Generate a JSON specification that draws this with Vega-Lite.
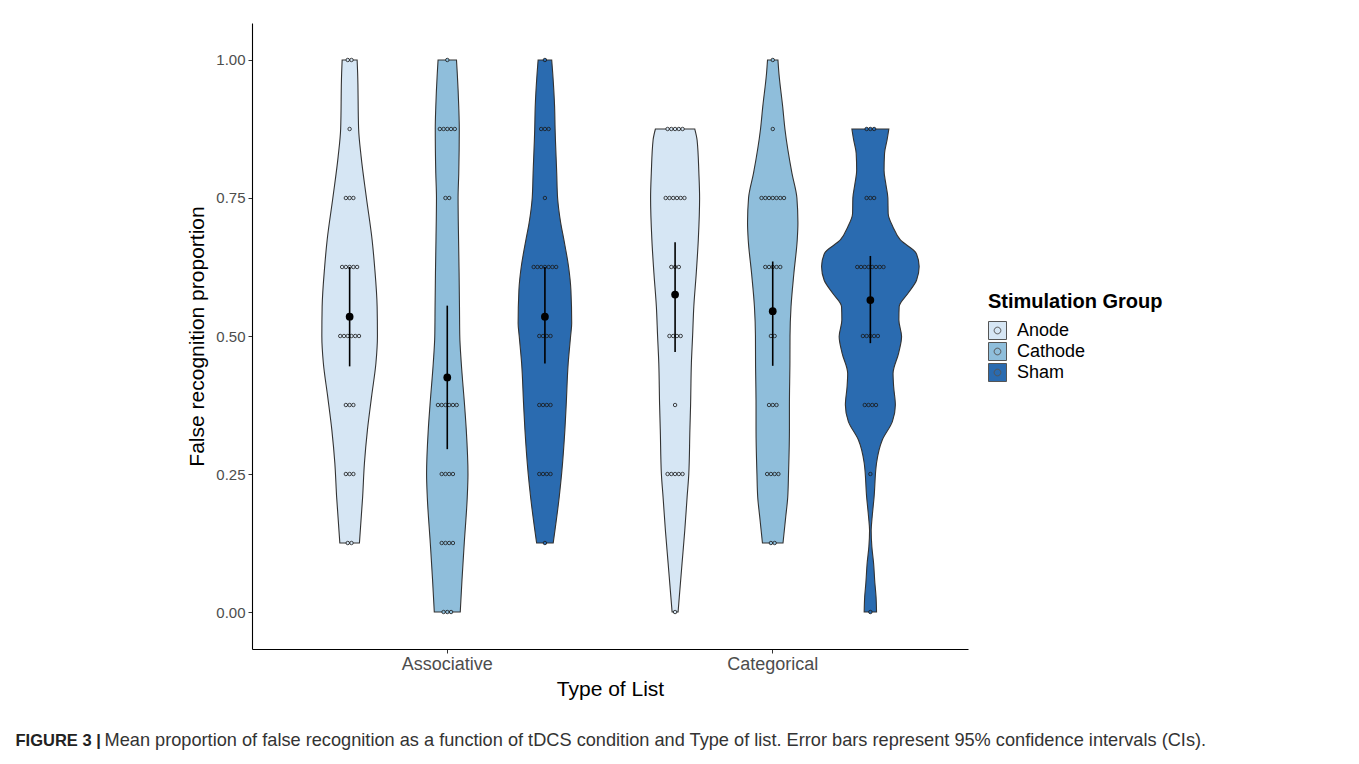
{
  "$schema": "https://vega.github.io/schema/vega-lite/v6.json",
  "width": 716,
  "height": 626,
  "autosize": "none",
  "padding": {"left": 252, "top": 23, "right": 391, "bottom": 115},
  "background": "white",
  "config": {
    "font": "Liberation Sans",
    "view": {"stroke": null},
    "axis": {
      "grid": false,
      "domainColor": "#000000",
      "domainWidth": 1.1,
      "tickColor": "#333333",
      "tickSize": 4,
      "labelColor": "#4d4d4d",
      "labelFontSize": 15,
      "titleColor": "#000000",
      "titleFontSize": 21,
      "titleFontWeight": "normal"
    },
    "legend": {
      "symbolType": "M-1,-1H1V1H-1Z M0.37,0A0.37,0.37,0,1,1,-0.37,0A0.37,0.37,0,1,1,0.37,0Z",
      "symbolSize": 324,
      "symbolStrokeColor": "#555555",
      "symbolStrokeWidth": 1,
      "titleFontSize": 20,
      "titleFontWeight": "bold",
      "titleColor": "#000000",
      "titlePadding": 9,
      "labelFontSize": 18,
      "labelColor": "#000000",
      "labelOffset": 10,
      "rowPadding": -5,
      "orient": "none",
      "legendX": 736,
      "legendY": 269
    }
  },
  "datasets": {
    "violins": [
      {"list": "Associative", "group": "Anode", "y": 1.0, "lo": 0.677, "hi": 0.723},
      {"list": "Associative", "group": "Anode", "y": 0.976, "lo": 0.6754, "hi": 0.7246},
      {"list": "Associative", "group": "Anode", "y": 0.875, "lo": 0.6724, "hi": 0.7276},
      {"list": "Associative", "group": "Anode", "y": 0.825, "lo": 0.6647, "hi": 0.7353},
      {"list": "Associative", "group": "Anode", "y": 0.75, "lo": 0.6484, "hi": 0.7516},
      {"list": "Associative", "group": "Anode", "y": 0.674, "lo": 0.6309, "hi": 0.7691},
      {"list": "Associative", "group": "Anode", "y": 0.625, "lo": 0.6232, "hi": 0.7768},
      {"list": "Associative", "group": "Anode", "y": 0.553, "lo": 0.6155, "hi": 0.7845},
      {"list": "Associative", "group": "Anode", "y": 0.5, "lo": 0.6146, "hi": 0.7854},
      {"list": "Associative", "group": "Anode", "y": 0.451, "lo": 0.6192, "hi": 0.7808},
      {"list": "Associative", "group": "Anode", "y": 0.391, "lo": 0.6324, "hi": 0.7676},
      {"list": "Associative", "group": "Anode", "y": 0.33, "lo": 0.6453, "hi": 0.7547},
      {"list": "Associative", "group": "Anode", "y": 0.27, "lo": 0.6545, "hi": 0.7455},
      {"list": "Associative", "group": "Anode", "y": 0.208, "lo": 0.6601, "hi": 0.7399},
      {"list": "Associative", "group": "Anode", "y": 0.125, "lo": 0.6699, "hi": 0.7301},

      {"list": "Associative", "group": "Cathode", "y": 1.0, "lo": 0.9717, "hi": 1.0283},
      {"list": "Associative", "group": "Cathode", "y": 0.976, "lo": 0.9693, "hi": 1.0307},
      {"list": "Associative", "group": "Cathode", "y": 0.915, "lo": 0.9647, "hi": 1.0353},
      {"list": "Associative", "group": "Cathode", "y": 0.875, "lo": 0.9631, "hi": 1.0369},
      {"list": "Associative", "group": "Cathode", "y": 0.795, "lo": 0.9647, "hi": 1.0353},
      {"list": "Associative", "group": "Cathode", "y": 0.75, "lo": 0.9668, "hi": 1.0332},
      {"list": "Associative", "group": "Cathode", "y": 0.674, "lo": 0.9653, "hi": 1.0347},
      {"list": "Associative", "group": "Cathode", "y": 0.614, "lo": 0.9637, "hi": 1.0363},
      {"list": "Associative", "group": "Cathode", "y": 0.553, "lo": 0.9625, "hi": 1.0375},
      {"list": "Associative", "group": "Cathode", "y": 0.5, "lo": 0.9616, "hi": 1.0384},
      {"list": "Associative", "group": "Cathode", "y": 0.451, "lo": 0.957, "hi": 1.043},
      {"list": "Associative", "group": "Cathode", "y": 0.375, "lo": 0.9469, "hi": 1.0531},
      {"list": "Associative", "group": "Cathode", "y": 0.33, "lo": 0.9416, "hi": 1.0584},
      {"list": "Associative", "group": "Cathode", "y": 0.25, "lo": 0.9364, "hi": 1.0636},
      {"list": "Associative", "group": "Cathode", "y": 0.208, "lo": 0.9386, "hi": 1.0614},
      {"list": "Associative", "group": "Cathode", "y": 0.125, "lo": 0.9478, "hi": 1.0522},
      {"list": "Associative", "group": "Cathode", "y": 0.058, "lo": 0.9548, "hi": 1.0452},
      {"list": "Associative", "group": "Cathode", "y": 0.0, "lo": 0.9601, "hi": 1.0399},

      {"list": "Associative", "group": "Sham", "y": 1.0, "lo": 1.2791, "hi": 1.3209},
      {"list": "Associative", "group": "Sham", "y": 0.976, "lo": 1.276, "hi": 1.324},
      {"list": "Associative", "group": "Sham", "y": 0.915, "lo": 1.2702, "hi": 1.3298},
      {"list": "Associative", "group": "Sham", "y": 0.875, "lo": 1.2687, "hi": 1.3313},
      {"list": "Associative", "group": "Sham", "y": 0.795, "lo": 1.2637, "hi": 1.3363},
      {"list": "Associative", "group": "Sham", "y": 0.75, "lo": 1.261, "hi": 1.339},
      {"list": "Associative", "group": "Sham", "y": 0.705, "lo": 1.2515, "hi": 1.3485},
      {"list": "Associative", "group": "Sham", "y": 0.674, "lo": 1.2416, "hi": 1.3584},
      {"list": "Associative", "group": "Sham", "y": 0.625, "lo": 1.2272, "hi": 1.3728},
      {"list": "Associative", "group": "Sham", "y": 0.583, "lo": 1.2201, "hi": 1.3799},
      {"list": "Associative", "group": "Sham", "y": 0.523, "lo": 1.2177, "hi": 1.3823},
      {"list": "Associative", "group": "Sham", "y": 0.5, "lo": 1.221, "hi": 1.379},
      {"list": "Associative", "group": "Sham", "y": 0.451, "lo": 1.2284, "hi": 1.3716},
      {"list": "Associative", "group": "Sham", "y": 0.375, "lo": 1.2346, "hi": 1.3654},
      {"list": "Associative", "group": "Sham", "y": 0.33, "lo": 1.2386, "hi": 1.3614},
      {"list": "Associative", "group": "Sham", "y": 0.25, "lo": 1.2487, "hi": 1.3513},
      {"list": "Associative", "group": "Sham", "y": 0.208, "lo": 1.2561, "hi": 1.3439},
      {"list": "Associative", "group": "Sham", "y": 0.125, "lo": 1.2745, "hi": 1.3255},

      {"list": "Categorical", "group": "Anode", "y": 0.875, "lo": 1.6395, "hi": 1.7605},
      {"list": "Categorical", "group": "Anode", "y": 0.855, "lo": 1.6324, "hi": 1.7676},
      {"list": "Categorical", "group": "Anode", "y": 0.795, "lo": 1.6269, "hi": 1.7731},
      {"list": "Categorical", "group": "Anode", "y": 0.75, "lo": 1.6247, "hi": 1.7753},
      {"list": "Categorical", "group": "Anode", "y": 0.674, "lo": 1.6287, "hi": 1.7713},
      {"list": "Categorical", "group": "Anode", "y": 0.614, "lo": 1.6349, "hi": 1.7651},
      {"list": "Categorical", "group": "Anode", "y": 0.553, "lo": 1.6425, "hi": 1.7575},
      {"list": "Categorical", "group": "Anode", "y": 0.5, "lo": 1.6462, "hi": 1.7538},
      {"list": "Categorical", "group": "Anode", "y": 0.451, "lo": 1.6499, "hi": 1.7501},
      {"list": "Categorical", "group": "Anode", "y": 0.375, "lo": 1.6524, "hi": 1.7476},
      {"list": "Categorical", "group": "Anode", "y": 0.33, "lo": 1.6545, "hi": 1.7455},
      {"list": "Categorical", "group": "Anode", "y": 0.25, "lo": 1.6579, "hi": 1.7421},
      {"list": "Categorical", "group": "Anode", "y": 0.208, "lo": 1.6631, "hi": 1.7369},
      {"list": "Categorical", "group": "Anode", "y": 0.148, "lo": 1.6702, "hi": 1.7298},
      {"list": "Categorical", "group": "Anode", "y": 0.089, "lo": 1.6785, "hi": 1.7215},
      {"list": "Categorical", "group": "Anode", "y": 0.027, "lo": 1.6871, "hi": 1.7129},
      {"list": "Categorical", "group": "Anode", "y": 0.0, "lo": 1.6908, "hi": 1.7092},

      {"list": "Categorical", "group": "Cathode", "y": 1.0, "lo": 1.984, "hi": 2.016},
      {"list": "Categorical", "group": "Cathode", "y": 0.976, "lo": 1.981, "hi": 2.019},
      {"list": "Categorical", "group": "Cathode", "y": 0.915, "lo": 1.9693, "hi": 2.0307},
      {"list": "Categorical", "group": "Cathode", "y": 0.875, "lo": 1.9625, "hi": 2.0375},
      {"list": "Categorical", "group": "Cathode", "y": 0.795, "lo": 1.941, "hi": 2.059},
      {"list": "Categorical", "group": "Cathode", "y": 0.75, "lo": 1.9257, "hi": 2.0743},
      {"list": "Categorical", "group": "Cathode", "y": 0.705, "lo": 1.9226, "hi": 2.0774},
      {"list": "Categorical", "group": "Cathode", "y": 0.674, "lo": 1.9247, "hi": 2.0753},
      {"list": "Categorical", "group": "Cathode", "y": 0.614, "lo": 1.9349, "hi": 2.0651},
      {"list": "Categorical", "group": "Cathode", "y": 0.553, "lo": 1.9438, "hi": 2.0562},
      {"list": "Categorical", "group": "Cathode", "y": 0.5, "lo": 1.9469, "hi": 2.0531},
      {"list": "Categorical", "group": "Cathode", "y": 0.451, "lo": 1.9472, "hi": 2.0528},
      {"list": "Categorical", "group": "Cathode", "y": 0.375, "lo": 1.9487, "hi": 2.0513},
      {"list": "Categorical", "group": "Cathode", "y": 0.33, "lo": 1.9487, "hi": 2.0513},
      {"list": "Categorical", "group": "Cathode", "y": 0.25, "lo": 1.9515, "hi": 2.0485},
      {"list": "Categorical", "group": "Cathode", "y": 0.208, "lo": 1.9539, "hi": 2.0461},
      {"list": "Categorical", "group": "Cathode", "y": 0.172, "lo": 1.9601, "hi": 2.0399},
      {"list": "Categorical", "group": "Cathode", "y": 0.125, "lo": 1.9684, "hi": 2.0316},

      {"list": "Categorical", "group": "Sham", "y": 0.875, "lo": 2.2432, "hi": 2.3568},
      {"list": "Categorical", "group": "Sham", "y": 0.855, "lo": 2.2487, "hi": 2.3513},
      {"list": "Categorical", "group": "Sham", "y": 0.831, "lo": 2.2564, "hi": 2.3436},
      {"list": "Categorical", "group": "Sham", "y": 0.8, "lo": 2.2579, "hi": 2.3421},
      {"list": "Categorical", "group": "Sham", "y": 0.775, "lo": 2.2524, "hi": 2.3476},
      {"list": "Categorical", "group": "Sham", "y": 0.75, "lo": 2.2462, "hi": 2.3538},
      {"list": "Categorical", "group": "Sham", "y": 0.722, "lo": 2.2453, "hi": 2.3547},
      {"list": "Categorical", "group": "Sham", "y": 0.698, "lo": 2.2309, "hi": 2.3691},
      {"list": "Categorical", "group": "Sham", "y": 0.674, "lo": 2.2078, "hi": 2.3922},
      {"list": "Categorical", "group": "Sham", "y": 0.65, "lo": 2.1593, "hi": 2.4407},
      {"list": "Categorical", "group": "Sham", "y": 0.626, "lo": 2.1501, "hi": 2.4499},
      {"list": "Categorical", "group": "Sham", "y": 0.601, "lo": 2.1581, "hi": 2.4419},
      {"list": "Categorical", "group": "Sham", "y": 0.577, "lo": 2.1848, "hi": 2.4152},
      {"list": "Categorical", "group": "Sham", "y": 0.553, "lo": 2.2115, "hi": 2.3885},
      {"list": "Categorical", "group": "Sham", "y": 0.529, "lo": 2.2124, "hi": 2.3876},
      {"list": "Categorical", "group": "Sham", "y": 0.499, "lo": 2.2041, "hi": 2.3959},
      {"list": "Categorical", "group": "Sham", "y": 0.469, "lo": 2.2131, "hi": 2.3869},
      {"list": "Categorical", "group": "Sham", "y": 0.432, "lo": 2.2303, "hi": 2.3697},
      {"list": "Categorical", "group": "Sham", "y": 0.408, "lo": 2.2284, "hi": 2.3716},
      {"list": "Categorical", "group": "Sham", "y": 0.375, "lo": 2.2232, "hi": 2.3768},
      {"list": "Categorical", "group": "Sham", "y": 0.345, "lo": 2.2324, "hi": 2.3676},
      {"list": "Categorical", "group": "Sham", "y": 0.312, "lo": 2.2631, "hi": 2.3369},
      {"list": "Categorical", "group": "Sham", "y": 0.27, "lo": 2.281, "hi": 2.319},
      {"list": "Categorical", "group": "Sham", "y": 0.208, "lo": 2.2886, "hi": 2.3114},
      {"list": "Categorical", "group": "Sham", "y": 0.172, "lo": 2.2945, "hi": 2.3055},
      {"list": "Categorical", "group": "Sham", "y": 0.148, "lo": 2.2975, "hi": 2.3025},
      {"list": "Categorical", "group": "Sham", "y": 0.118, "lo": 2.2954, "hi": 2.3046},
      {"list": "Categorical", "group": "Sham", "y": 0.089, "lo": 2.2902, "hi": 2.3098},
      {"list": "Categorical", "group": "Sham", "y": 0.053, "lo": 2.2862, "hi": 2.3138},
      {"list": "Categorical", "group": "Sham", "y": 0.027, "lo": 2.2825, "hi": 2.3175},
      {"list": "Categorical", "group": "Sham", "y": 0.0, "lo": 2.281, "hi": 2.319}
    ],
    "dots": [
      {"list": "Associative", "group": "Anode", "value": 1},
      {"list": "Associative", "group": "Anode", "value": 1},
      {"list": "Associative", "group": "Anode", "value": 0.875},
      {"list": "Associative", "group": "Anode", "value": 0.75},
      {"list": "Associative", "group": "Anode", "value": 0.75},
      {"list": "Associative", "group": "Anode", "value": 0.75},
      {"list": "Associative", "group": "Anode", "value": 0.625},
      {"list": "Associative", "group": "Anode", "value": 0.625},
      {"list": "Associative", "group": "Anode", "value": 0.625},
      {"list": "Associative", "group": "Anode", "value": 0.625},
      {"list": "Associative", "group": "Anode", "value": 0.625},
      {"list": "Associative", "group": "Anode", "value": 0.5},
      {"list": "Associative", "group": "Anode", "value": 0.5},
      {"list": "Associative", "group": "Anode", "value": 0.5},
      {"list": "Associative", "group": "Anode", "value": 0.5},
      {"list": "Associative", "group": "Anode", "value": 0.5},
      {"list": "Associative", "group": "Anode", "value": 0.5},
      {"list": "Associative", "group": "Anode", "value": 0.375},
      {"list": "Associative", "group": "Anode", "value": 0.375},
      {"list": "Associative", "group": "Anode", "value": 0.375},
      {"list": "Associative", "group": "Anode", "value": 0.25},
      {"list": "Associative", "group": "Anode", "value": 0.25},
      {"list": "Associative", "group": "Anode", "value": 0.25},
      {"list": "Associative", "group": "Anode", "value": 0.125},
      {"list": "Associative", "group": "Anode", "value": 0.125},

      {"list": "Associative", "group": "Cathode", "value": 1},
      {"list": "Associative", "group": "Cathode", "value": 0.875},
      {"list": "Associative", "group": "Cathode", "value": 0.875},
      {"list": "Associative", "group": "Cathode", "value": 0.875},
      {"list": "Associative", "group": "Cathode", "value": 0.875},
      {"list": "Associative", "group": "Cathode", "value": 0.875},
      {"list": "Associative", "group": "Cathode", "value": 0.75},
      {"list": "Associative", "group": "Cathode", "value": 0.75},
      {"list": "Associative", "group": "Cathode", "value": 0.375},
      {"list": "Associative", "group": "Cathode", "value": 0.375},
      {"list": "Associative", "group": "Cathode", "value": 0.375},
      {"list": "Associative", "group": "Cathode", "value": 0.375},
      {"list": "Associative", "group": "Cathode", "value": 0.375},
      {"list": "Associative", "group": "Cathode", "value": 0.375},
      {"list": "Associative", "group": "Cathode", "value": 0.25},
      {"list": "Associative", "group": "Cathode", "value": 0.25},
      {"list": "Associative", "group": "Cathode", "value": 0.25},
      {"list": "Associative", "group": "Cathode", "value": 0.25},
      {"list": "Associative", "group": "Cathode", "value": 0.125},
      {"list": "Associative", "group": "Cathode", "value": 0.125},
      {"list": "Associative", "group": "Cathode", "value": 0.125},
      {"list": "Associative", "group": "Cathode", "value": 0.125},
      {"list": "Associative", "group": "Cathode", "value": 0},
      {"list": "Associative", "group": "Cathode", "value": 0},
      {"list": "Associative", "group": "Cathode", "value": 0},

      {"list": "Associative", "group": "Sham", "value": 1},
      {"list": "Associative", "group": "Sham", "value": 0.875},
      {"list": "Associative", "group": "Sham", "value": 0.875},
      {"list": "Associative", "group": "Sham", "value": 0.875},
      {"list": "Associative", "group": "Sham", "value": 0.75},
      {"list": "Associative", "group": "Sham", "value": 0.625},
      {"list": "Associative", "group": "Sham", "value": 0.625},
      {"list": "Associative", "group": "Sham", "value": 0.625},
      {"list": "Associative", "group": "Sham", "value": 0.625},
      {"list": "Associative", "group": "Sham", "value": 0.625},
      {"list": "Associative", "group": "Sham", "value": 0.625},
      {"list": "Associative", "group": "Sham", "value": 0.625},
      {"list": "Associative", "group": "Sham", "value": 0.5},
      {"list": "Associative", "group": "Sham", "value": 0.5},
      {"list": "Associative", "group": "Sham", "value": 0.5},
      {"list": "Associative", "group": "Sham", "value": 0.5},
      {"list": "Associative", "group": "Sham", "value": 0.375},
      {"list": "Associative", "group": "Sham", "value": 0.375},
      {"list": "Associative", "group": "Sham", "value": 0.375},
      {"list": "Associative", "group": "Sham", "value": 0.375},
      {"list": "Associative", "group": "Sham", "value": 0.25},
      {"list": "Associative", "group": "Sham", "value": 0.25},
      {"list": "Associative", "group": "Sham", "value": 0.25},
      {"list": "Associative", "group": "Sham", "value": 0.25},
      {"list": "Associative", "group": "Sham", "value": 0.125},

      {"list": "Categorical", "group": "Anode", "value": 0.875},
      {"list": "Categorical", "group": "Anode", "value": 0.875},
      {"list": "Categorical", "group": "Anode", "value": 0.875},
      {"list": "Categorical", "group": "Anode", "value": 0.875},
      {"list": "Categorical", "group": "Anode", "value": 0.875},
      {"list": "Categorical", "group": "Anode", "value": 0.75},
      {"list": "Categorical", "group": "Anode", "value": 0.75},
      {"list": "Categorical", "group": "Anode", "value": 0.75},
      {"list": "Categorical", "group": "Anode", "value": 0.75},
      {"list": "Categorical", "group": "Anode", "value": 0.75},
      {"list": "Categorical", "group": "Anode", "value": 0.75},
      {"list": "Categorical", "group": "Anode", "value": 0.625},
      {"list": "Categorical", "group": "Anode", "value": 0.625},
      {"list": "Categorical", "group": "Anode", "value": 0.625},
      {"list": "Categorical", "group": "Anode", "value": 0.5},
      {"list": "Categorical", "group": "Anode", "value": 0.5},
      {"list": "Categorical", "group": "Anode", "value": 0.5},
      {"list": "Categorical", "group": "Anode", "value": 0.5},
      {"list": "Categorical", "group": "Anode", "value": 0.375},
      {"list": "Categorical", "group": "Anode", "value": 0.25},
      {"list": "Categorical", "group": "Anode", "value": 0.25},
      {"list": "Categorical", "group": "Anode", "value": 0.25},
      {"list": "Categorical", "group": "Anode", "value": 0.25},
      {"list": "Categorical", "group": "Anode", "value": 0.25},
      {"list": "Categorical", "group": "Anode", "value": 0},

      {"list": "Categorical", "group": "Cathode", "value": 1},
      {"list": "Categorical", "group": "Cathode", "value": 0.875},
      {"list": "Categorical", "group": "Cathode", "value": 0.75},
      {"list": "Categorical", "group": "Cathode", "value": 0.75},
      {"list": "Categorical", "group": "Cathode", "value": 0.75},
      {"list": "Categorical", "group": "Cathode", "value": 0.75},
      {"list": "Categorical", "group": "Cathode", "value": 0.75},
      {"list": "Categorical", "group": "Cathode", "value": 0.75},
      {"list": "Categorical", "group": "Cathode", "value": 0.75},
      {"list": "Categorical", "group": "Cathode", "value": 0.625},
      {"list": "Categorical", "group": "Cathode", "value": 0.625},
      {"list": "Categorical", "group": "Cathode", "value": 0.625},
      {"list": "Categorical", "group": "Cathode", "value": 0.625},
      {"list": "Categorical", "group": "Cathode", "value": 0.625},
      {"list": "Categorical", "group": "Cathode", "value": 0.5},
      {"list": "Categorical", "group": "Cathode", "value": 0.5},
      {"list": "Categorical", "group": "Cathode", "value": 0.375},
      {"list": "Categorical", "group": "Cathode", "value": 0.375},
      {"list": "Categorical", "group": "Cathode", "value": 0.375},
      {"list": "Categorical", "group": "Cathode", "value": 0.25},
      {"list": "Categorical", "group": "Cathode", "value": 0.25},
      {"list": "Categorical", "group": "Cathode", "value": 0.25},
      {"list": "Categorical", "group": "Cathode", "value": 0.25},
      {"list": "Categorical", "group": "Cathode", "value": 0.125},
      {"list": "Categorical", "group": "Cathode", "value": 0.125},

      {"list": "Categorical", "group": "Sham", "value": 0.875},
      {"list": "Categorical", "group": "Sham", "value": 0.875},
      {"list": "Categorical", "group": "Sham", "value": 0.875},
      {"list": "Categorical", "group": "Sham", "value": 0.75},
      {"list": "Categorical", "group": "Sham", "value": 0.75},
      {"list": "Categorical", "group": "Sham", "value": 0.75},
      {"list": "Categorical", "group": "Sham", "value": 0.625},
      {"list": "Categorical", "group": "Sham", "value": 0.625},
      {"list": "Categorical", "group": "Sham", "value": 0.625},
      {"list": "Categorical", "group": "Sham", "value": 0.625},
      {"list": "Categorical", "group": "Sham", "value": 0.625},
      {"list": "Categorical", "group": "Sham", "value": 0.625},
      {"list": "Categorical", "group": "Sham", "value": 0.625},
      {"list": "Categorical", "group": "Sham", "value": 0.625},
      {"list": "Categorical", "group": "Sham", "value": 0.5},
      {"list": "Categorical", "group": "Sham", "value": 0.5},
      {"list": "Categorical", "group": "Sham", "value": 0.5},
      {"list": "Categorical", "group": "Sham", "value": 0.5},
      {"list": "Categorical", "group": "Sham", "value": 0.5},
      {"list": "Categorical", "group": "Sham", "value": 0.375},
      {"list": "Categorical", "group": "Sham", "value": 0.375},
      {"list": "Categorical", "group": "Sham", "value": 0.375},
      {"list": "Categorical", "group": "Sham", "value": 0.375},
      {"list": "Categorical", "group": "Sham", "value": 0.25},
      {"list": "Categorical", "group": "Sham", "value": 0}
    ],
    "summary": [
      {"list": "Associative", "group": "Anode", "mean": 0.535, "lo": 0.445, "hi": 0.625},
      {"list": "Associative", "group": "Cathode", "mean": 0.425, "lo": 0.295, "hi": 0.555},
      {"list": "Associative", "group": "Sham", "mean": 0.535, "lo": 0.45, "hi": 0.625},
      {"list": "Categorical", "group": "Anode", "mean": 0.575, "lo": 0.471, "hi": 0.67},
      {"list": "Categorical", "group": "Cathode", "mean": 0.545, "lo": 0.446, "hi": 0.635},
      {"list": "Categorical", "group": "Sham", "mean": 0.565, "lo": 0.487, "hi": 0.645}
    ]
  },
  "layer": [
    {
      "data": {"name": "violins"},
      "mark": {"type": "area", "orient": "horizontal", "interpolate": "monotone", "stroke": "#333333", "strokeWidth": 1.1, "opacity": 1},
      "encoding": {
        "y": {
          "field": "y", "type": "quantitative",
          "title": "False recognition proportion",
          "scale": {"domain": [-0.067, 1.067], "nice": false, "zero": false},
          "axis": {"values": [0, 0.25, 0.5, 0.75, 1], "format": ".2f", "labelPadding": 3, "titlePadding": 8}
        },
        "x": {
          "field": "lo", "type": "quantitative", "title": "FIGURE 3 |",
          "scale": {"domain": [0.4, 2.6], "nice": false, "zero": false},
          "axis": {
            "orient": "bottom", "domain": false, "ticks": false, "labels": false,
            "titleFontSize": 16.5, "titleFontWeight": "bold", "titleColor": "#222222",
            "titleAnchor": "start", "titleAlign": "left", "titleBaseline": "alphabetic",
            "titleX": -237, "titleY": 96
          }
        },
        "x2": {"field": "hi"},
        "detail": {"field": "list"},
        "fill": {
          "field": "group", "type": "nominal", "title": "Stimulation Group",
          "scale": {"domain": ["Anode", "Cathode", "Sham"], "range": ["#d6e6f4", "#8fbedb", "#2a6bb0"]}
        }
      }
    },
    {
      "data": {"name": "dots"},
      "transform": [
        {"window": [{"op": "count", "as": "one"}], "frame": [0, 0]},
        {"stack": "one", "groupby": ["list", "group", "value"], "offset": "center", "as": ["s0", "s1"]}
      ],
      "encoding": {
        "x": {
          "field": "list", "type": "nominal",
          "title": "Mean proportion of false recognition as a function of tDCS condition and Type of list. Error bars represent 95% confidence intervals (CIs).",
          "scale": {"paddingInner": 0.1, "paddingOuter": 0.15},
          "axis": {
            "orient": "bottom", "domain": false, "ticks": false, "labels": false,
            "titleFontSize": 18.2, "titleFontWeight": "normal", "titleColor": "#333333",
            "titleAnchor": "start", "titleAlign": "left", "titleBaseline": "alphabetic",
            "titleX": -148, "titleY": 96
          }
        },
        "y": {"field": "value", "type": "quantitative", "title": "False recognition proportion", "scale": {"domain": [-0.067, 1.067], "nice": false, "zero": false}},
        "fill": {"field": "group", "type": "nominal", "title": "Stimulation Group"}
      },
      "layer": [
        {
          "transform": [{"filter": "datum.group === 'Anode'"}],
          "mark": {"type": "point", "shape": "circle", "filled": true, "size": 12, "stroke": "#1a1a1a", "strokeWidth": 0.8, "opacity": 1},
          "encoding": {
            "xOffset": {"field": "s0", "type": "quantitative", "scale": {"domain": [-6.5, 13.5], "range": [11.3, 86.3]}}
          }
        },
        {
          "transform": [{"filter": "datum.group === 'Cathode'"}],
          "mark": {"type": "point", "shape": "circle", "filled": true, "size": 12, "stroke": "#1a1a1a", "strokeWidth": 0.8, "opacity": 1},
          "encoding": {
            "xOffset": {"field": "s0", "type": "quantitative", "scale": {"domain": [-6.5, 13.5], "range": [109, 184]}}
          }
        },
        {
          "transform": [{"filter": "datum.group === 'Sham'"}],
          "mark": {"type": "point", "shape": "circle", "filled": true, "size": 12, "stroke": "#1a1a1a", "strokeWidth": 0.8, "opacity": 1},
          "encoding": {
            "xOffset": {"field": "s0", "type": "quantitative", "scale": {"domain": [-6.5, 13.5], "range": [206.6, 281.6]}}
          }
        }
      ],
      "resolve": {"scale": {"xOffset": "independent"}}
    },
    {
      "data": {"name": "summary"},
      "encoding": {
        "x": {
          "field": "list", "type": "nominal", "title": "Type of List",
          "scale": {"paddingInner": 0.1, "paddingOuter": 0.15},
          "axis": {"orient": "bottom", "labelAngle": 0, "labelFontSize": 18, "labelPadding": 2, "titlePadding": 5}
        },
        "xOffset": {"field": "group", "type": "nominal", "scale": {"paddingInner": 0, "paddingOuter": 0}}
      },
      "layer": [
        {
          "mark": {"type": "rule", "color": "#000000", "strokeWidth": 1.6},
          "encoding": {
            "y": {"field": "lo", "type": "quantitative", "title": "False recognition proportion", "scale": {"domain": [-0.067, 1.067], "nice": false, "zero": false}},
            "y2": {"field": "hi"}
          }
        },
        {
          "mark": {"type": "point", "shape": "circle", "filled": true, "size": 60, "color": "#000000", "opacity": 1},
          "encoding": {
            "y": {"field": "mean", "type": "quantitative", "title": "False recognition proportion", "scale": {"domain": [-0.067, 1.067], "nice": false, "zero": false}}
          }
        }
      ]
    }
  ],
  "resolve": {"scale": {"x": "independent", "xOffset": "independent"}, "axis": {"x": "independent"}}
}
